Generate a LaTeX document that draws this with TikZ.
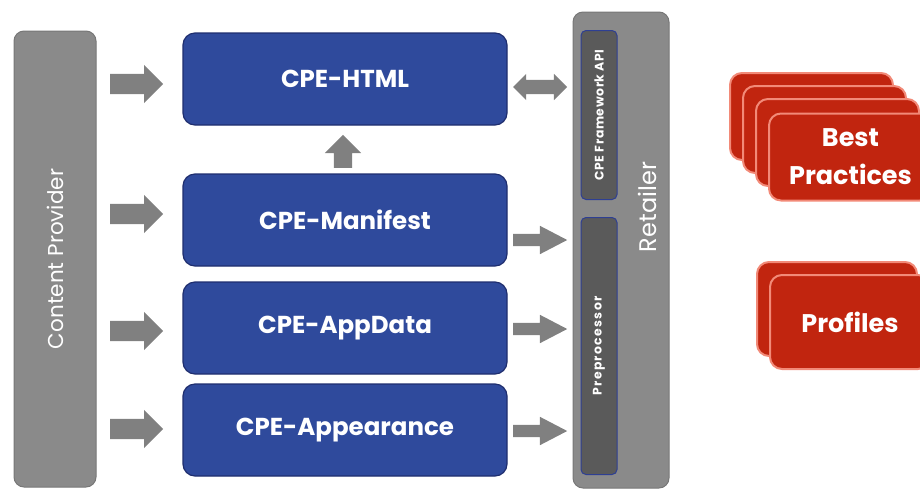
\documentclass[tikz,border=0pt]{standalone}
\usepackage{fontspec}
\setmainfont{Poppins}
\usetikzlibrary{shapes.arrows,positioning}

\definecolor{cpeblue}{HTML}{2F4A9C}
\definecolor{cpeedge}{HTML}{1F2E6E}
\definecolor{bargray}{HTML}{8A8A8A}
\definecolor{baredge}{HTML}{777777}
\definecolor{darkbox}{HTML}{5A5A5A}
\definecolor{darkedge}{HTML}{2E3F93}
\definecolor{bpred}{HTML}{C1250F}
\definecolor{bpedge}{HTML}{F28A78}
\definecolor{arrowgray}{HTML}{808080}

\begin{document}
\begin{tikzpicture}[x=1pt,y=-1pt,
    bar/.style={draw=baredge,fill=bargray,rounded corners=10pt,line width=1pt,
        rotate=90,text=white,font=\fontsize{21.5}{24}\selectfont},
    cpebox/.style={draw=cpeedge,fill=cpeblue,rounded corners=12pt,line width=1.2pt,
        minimum width=324pt,minimum height=92pt,text=white,
        font=\bfseries\fontsize{24.5}{28}\selectfont},
    inbox/.style={draw=darkedge,fill=darkbox,rounded corners=5pt,line width=1pt,
        minimum height=36pt,rotate=90,text=white,font=\bfseries\fontsize{12.4}{14}\selectfont},
    redbox/.style={draw=bpedge,fill=bpred,rounded corners=12pt,line width=2pt,
        text=white,align=center,font=\bfseries\fontsize{25.5}{38}\selectfont},
    fatin/.style={single arrow,fill=arrowgray,inner xsep=0pt,inner ysep=10pt,anchor=tail,
        minimum height=53pt,single arrow head extend=9pt},
    fatout/.style={single arrow,fill=arrowgray,inner xsep=0pt,inner ysep=6pt,anchor=tail,
        minimum height=54pt,single arrow head extend=8pt,single arrow tip angle=55}]
\clip (0,0) rectangle (920,488);

% content provider and retailer
\node[bar,minimum width=456pt,minimum height=82pt] (cp) at (55,259) {Content Provider};
\node[bar,minimum width=476pt,minimum height=96pt] (ret) at (621,250) {};
\node[rotate=90,text=white,font=\fontsize{24}{26}\selectfont] (rettext) at (647,207) {Retailer};
\node[inbox,minimum width=169pt] (api) at (599,115) {\addfontfeature{LetterSpace=5}CPE Framework API};
\node[inbox,minimum width=257pt] (pre) at (599,346) {\addfontfeature{LetterSpace=11}Preprocessor};

% the four CPE blocks
\node[cpebox] (html) at (345,79) {CPE-HTML};
\node[cpebox] (manifest) at (345,220) {CPE-Manifest};
\node[cpebox] (appdata) at (345,328) {CPE-AppData};
\node[cpebox] (appear) at (345,430) {CPE-Appearance};

% arrows
\foreach \y in {84,214,331,429}
    \node[fatin] at (110,\y) {};
\node[fatin,rotate=90,minimum height=33pt,inner ysep=9pt] (up) at (343,168) {};
\node[double arrow,fill=arrowgray,inner xsep=0pt,inner ysep=7pt,minimum height=54pt,
    double arrow head extend=6pt] (api2html) at (540,87) {};
\foreach \y in {240,329,431}
    \node[fatout] at (513,\y) {};

% best practices and profiles
\foreach \i in {0,1,2}
    \node[redbox,minimum width=163pt,minimum height=87pt] at (811.5+13*\i,116.5+13*\i) {};
\node[redbox,minimum width=163pt,minimum height=87pt] (best) at (850.5,157) {Best\\Practices};
\node[redbox,minimum width=160pt,minimum height=94pt] at (837,309) {};
\node[redbox,minimum width=160pt,minimum height=94pt] (prof) at (850,322) {Profiles};
\end{tikzpicture}
\end{document}
